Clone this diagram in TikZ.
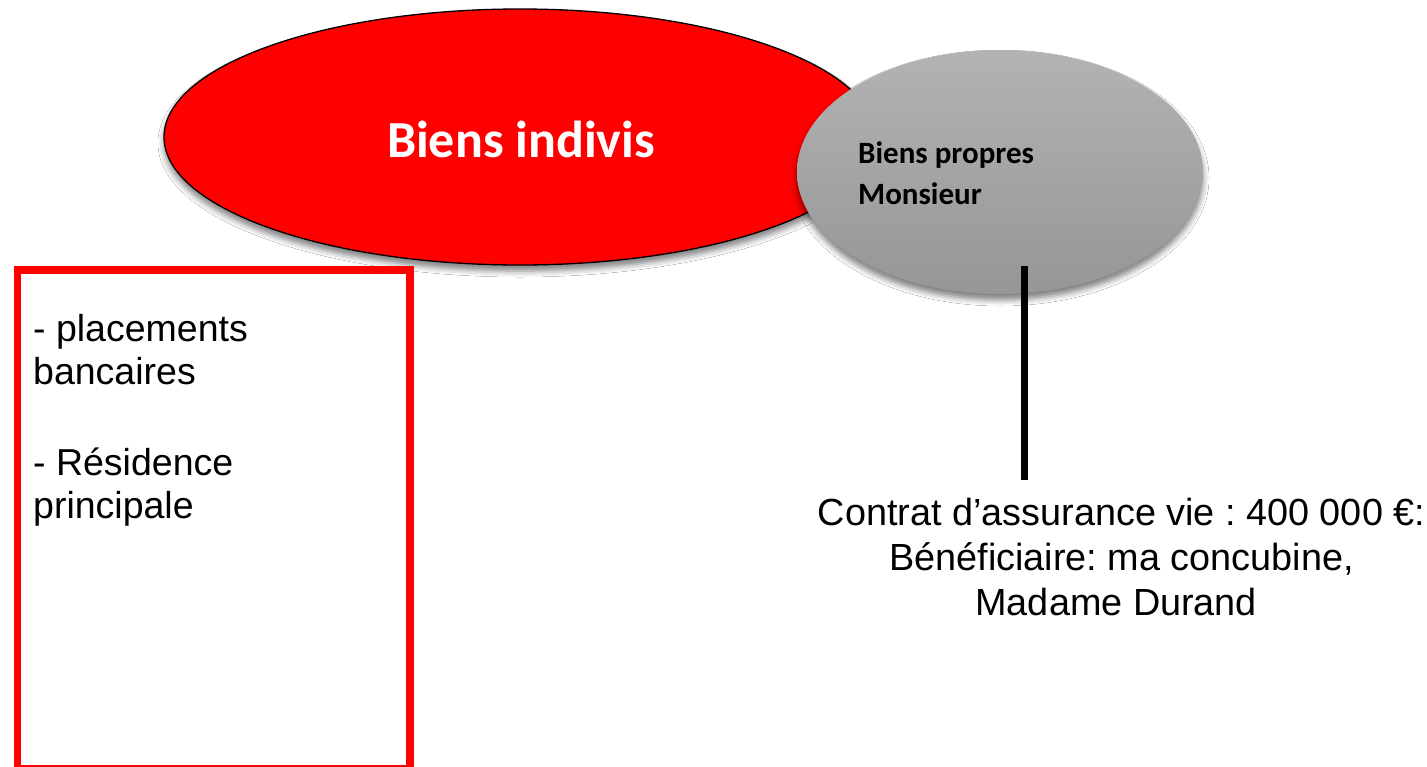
\documentclass[tikz,border=0pt]{standalone}
\usepackage{fontspec}
\setmainfont{Liberation Sans}
\newfontfamily\calibrif{Carlito}
\usetikzlibrary{shapes.geometric,shadows.blur}
\definecolor{redfill}{HTML}{FF0000}
\definecolor{graytop}{HTML}{B3B3B3}
\definecolor{graybot}{HTML}{969696}
\frenchspacing
\begin{document}
\begin{tikzpicture}[x=1pt,y=-1pt,
  softshadow/.style={blur shadow={shadow xshift=0pt, shadow yshift=-6pt, shadow blur radius=6pt, shadow opacity=50}},
  redellipse/.style={ellipse, draw=black, line width=1.3pt, fill=redfill, inner sep=0pt, softshadow},
  grayellipse/.style={ellipse, top color=graytop, bottom color=graybot, draw=none, inner sep=0pt, softshadow},
  redbox/.style={rectangle, draw=redfill, line width=7.5pt, fill=white, inner sep=0pt, anchor=north west},
  arialtext/.style={inner sep=0pt, text=black},
  connector/.style={draw=black, line width=7pt}
]
\useasboundingbox (0,0) rectangle (1427,766);
\fill[white] (0,0) rectangle (1427,766);

\node[redellipse, minimum width=712pt, minimum height=256pt] (indivis) at (520,137) {};
\node[grayellipse, minimum width=406pt, minimum height=244pt] (propres) at (1000,172) {};

\node[anchor=base, inner sep=0pt, text=white, font=\calibrif\bfseries\fontsize{52}{60}\selectfont] (indivislabel) at (521,157) {Biens indivis};
\node[anchor=base west, align=left, inner sep=0pt, text=black, font=\calibrif\bfseries\fontsize{31}{41}\selectfont] (propreslabel) at (858,204) {Biens propres\\Monsieur};

\node[redbox, minimum width=392.5pt, minimum height=499pt] (liste) at (13.5,266) {};
\node[arialtext, anchor=base west, align=left, font=\fontsize{37.5}{43}\selectfont] (listelabel) at (33,518) {- placements\\bancaires\\[48pt]- Résidence\\principale};

\coordinate (ltop) at (1024.5,266);
\coordinate (lbot) at (1024.5,480);
\draw[connector] (ltop) -- (lbot);

\node[arialtext, anchor=base, align=center, font=\fontsize{37.8}{45}\selectfont] (contrat) at (1121.5,615) {Contrat d’assurance vie : 400 000 €:\\Bénéficiaire: ma concubine,\hspace*{10.5pt}\\Madame Durand\hspace*{10.5pt}};
\end{tikzpicture}
\end{document}
